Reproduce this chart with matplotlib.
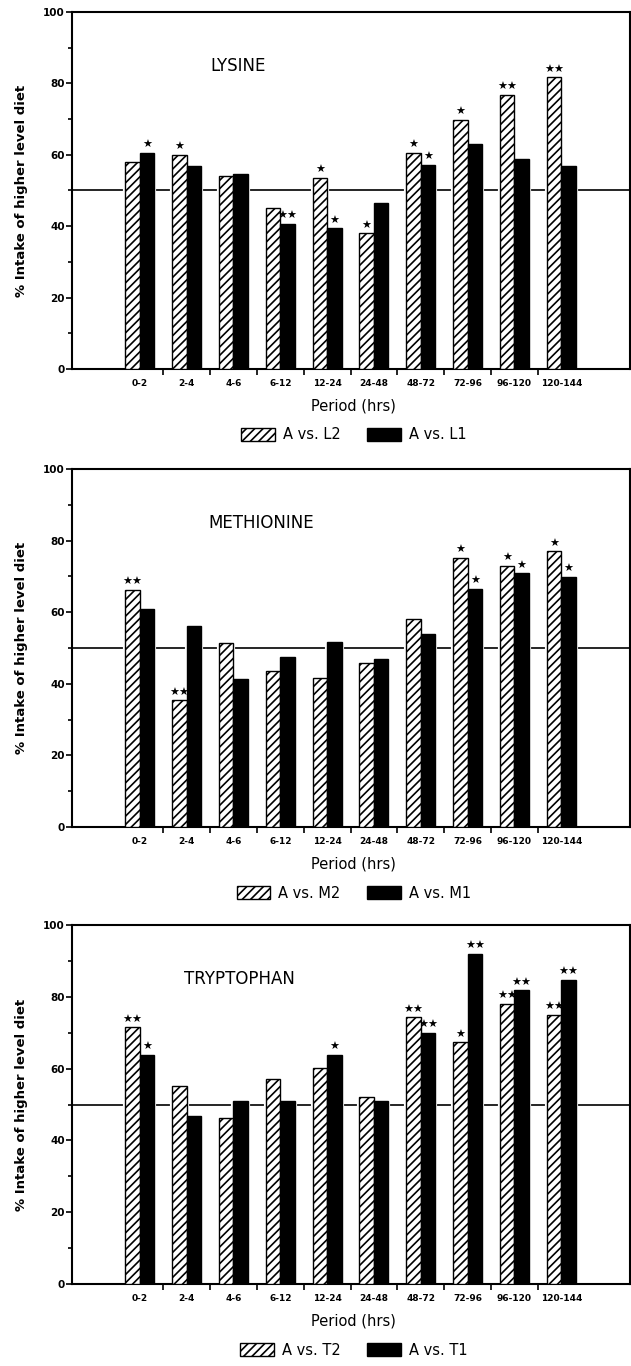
import numpy as np
import matplotlib
matplotlib.use('Agg')
import matplotlib.pyplot as plt
from matplotlib.patches import Patch

periods = ['0-2', '2-4', '4-6', '6-12', '12-24', '24-48', '48-72', '72-96', '96-120', '120-144']

# LYSINE
lys_l2 = [58, 60, 54, 45, 53.5, 38, 60.5, 69.7, 76.7, 81.7]
lys_l1 = [60.5, 57, 54.5, 40.7, 39.4, 46.4, 57.2, 63.1, 58.8, 56.8]
lys_l2_sig = ['', '*', '', '', '*', '*', '*', '*', '**', '**']
lys_l1_sig = ['*', '', '', '**', '*', '', '*', '', '', '']

# METHIONINE
met_m2 = [66.3, 35.4, 51.4, 43.5, 41.7, 45.9, 58.0, 75.2, 73.0, 77.0]
met_m1 = [60.9, 56.1, 41.4, 47.4, 51.6, 46.8, 53.8, 66.6, 70.8, 69.9]
met_m2_sig = ['**', '**', '', '', '', '', '', '*', '*', '*']
met_m1_sig = ['', '', '', '', '', '', '', '*', '*', '*']

# TRYPTOPHAN
try_t2 = [71.5, 55.3, 46.3, 57.2, 60.2, 52.1, 74.3, 67.3, 78.0, 75.0]
try_t1 = [63.9, 46.9, 50.9, 50.9, 63.9, 50.9, 69.9, 91.9, 81.8, 84.7]
try_t2_sig = ['**', '', '', '', '', '', '**', '*', '**', '**']
try_t1_sig = ['*', '', '', '', '*', '', '**', '**', '**', '**']

plt.rcParams['hatch.linewidth'] = 1.2
plt.rcParams['font.family'] = ['DejaVu Sans']

W = 0.31
x = np.arange(len(periods))


def panel(ax, title, title_x, hatched, solid, hatched_sig, solid_sig, labels):
    ax.axhline(50, color='black', lw=1.2, zorder=1)
    # white halo so the 50% line stops short of the bars
    ax.bar(x - W / 2, hatched, W, color='white', edgecolor='white', lw=3, zorder=2)
    ax.bar(x + W / 2, solid, W, color='white', edgecolor='white', lw=3, zorder=2)
    ax.bar(x - W / 2, hatched, W, color='white', edgecolor='black', hatch='////',
           lw=1.0, zorder=3)
    ax.bar(x + W / 2, solid, W, color='black', edgecolor='black', lw=1.0, zorder=3)

    for xi, v, s in zip(x - W / 2, hatched, hatched_sig):
        if s:
            ax.annotate('\u2605' * len(s), (xi, v), xytext=(0, 2), textcoords='offset points',
                        ha='center', va='bottom', fontsize=8)
    for xi, v, s in zip(x + W / 2, solid, solid_sig):
        if s:
            ax.annotate('\u2605' * len(s), (xi, v), xytext=(0, 2), textcoords='offset points',
                        ha='center', va='bottom', fontsize=8)

    ax.text(title_x, 85, title, fontsize=12, ha='left', va='center')

    ax.set_xlim(-1.45, 10.47)
    ax.set_ylim(0, 100)
    ax.set_yticks(range(0, 101, 20))
    ax.set_yticks(range(10, 100, 20), minor=True)
    ax.set_xticks(x)
    ax.set_xticklabels(periods, fontsize=6.5, fontweight='bold')
    ax.set_xticks(np.arange(0.5, 9, 1), minor=True)
    ax.tick_params(axis='x', which='major', length=0, pad=7)
    ax.tick_params(axis='x', which='minor', length=4, width=1.2, direction='out')
    ax.tick_params(axis='y', which='major', length=4, width=1.2, labelsize=7.5, pad=1)
    ax.tick_params(axis='y', which='minor', length=3, width=1.2)
    for lab in ax.get_yticklabels():
        lab.set_fontweight('bold')
    for sp in ax.spines.values():
        sp.set_linewidth(1.5)

    ax.set_ylabel('% Intake of higher level diet', fontsize=9.5, fontweight='bold')
    ax.yaxis.set_label_coords(-0.078, 0.5)
    ax.set_xlabel('Period (hrs)', fontsize=10.5)
    ax.xaxis.set_label_coords(0.505, -0.083)

    handles = [Patch(facecolor='white', edgecolor='black', hatch='////', label=labels[0]),
               Patch(facecolor='black', edgecolor='black', label=labels[1])]
    ax.legend(handles=handles, loc='center', bbox_to_anchor=(0.505, -0.185), ncol=2,
              frameon=False, fontsize=10.5, handlelength=2.3, handleheight=1.0,
              handletextpad=0.55, columnspacing=1.8)


fig = plt.figure(figsize=(6.31, 13.66), dpi=100)
ax1 = fig.add_axes([0.114, 0.7299, 0.8845, 0.2613])
ax2 = fig.add_axes([0.114, 0.3946, 0.8845, 0.2621])
ax3 = fig.add_axes([0.114, 0.0600, 0.8845, 0.2628])

panel(ax1, 'LYSINE', 1.5, lys_l2, lys_l1, lys_l2_sig, lys_l1_sig, ['A vs. L2', 'A vs. L1'])
panel(ax2, 'METHIONINE', 1.47, met_m2, met_m1, met_m2_sig, met_m1_sig, ['A vs. M2', 'A vs. M1'])
panel(ax3, 'TRYPTOPHAN', 0.94, try_t2, try_t1, try_t2_sig, try_t1_sig, ['A vs. T2', 'A vs. T1'])

fig.savefig('out.png', dpi=100)
